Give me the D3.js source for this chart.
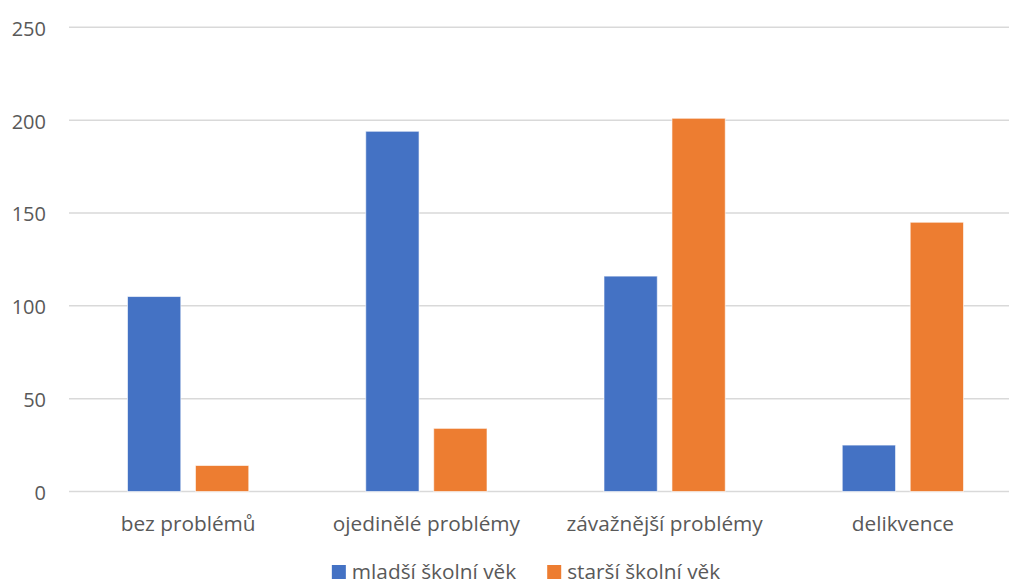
<!DOCTYPE html>
<html>
<head>
<meta charset="utf-8">
<script src="https://cdn.jsdelivr.net/npm/d3@7"></script>
<style>
  body { margin: 0; background: #fff; }
  text { font-family: "Open Sans", sans-serif; fill: #595959; }
</style>
</head>
<body>
<div id="chart"></div>
<script>
// data
var categories = ["bez problémů", "ojedinělé problémy", "závažnější problémy", "delikvence"];
var seriesNames = ["mladší školní věk", "starší školní věk"];
var youngerValues = [105, 194, 116, 25];
var olderValues = [14, 34, 201, 145];
var yTicks = [0, 50, 100, 150, 200, 250];

var colors = ["#4472C4", "#ED7D31"];
var width = 1009, height = 585;
var labelSize = 20.8;

var svg = d3.select("#chart")
  .append("svg")
  .attr("width", width)
  .attr("height", height);

// plot area runs past the right edge of the picture, like the original crop
var x0 = d3.scaleBand()
  .domain(categories)
  .range([69, 1022]);

var groupPad = 58.5;
var x1 = d3.scaleBand()
  .domain(seriesNames)
  .range([groupPad, x0.bandwidth() - groupPad])
  .paddingInner(0.216);

var y = d3.scaleLinear()
  .domain([0, 250])
  .range([491.5, 27.3]);

// gridlines
svg.append("g")
  .selectAll("line")
  .data(yTicks)
  .enter()
  .append("line")
    .attr("x1", 69)
    .attr("x2", 1022)
    .attr("y1", function (d) { return y(d); })
    .attr("y2", function (d) { return y(d); })
    .attr("stroke", "#D9D9D9")
    .attr("stroke-width", 1.5);

// y axis labels (no axis line, just the text)
var yAxis = d3.axisLeft(y).tickValues(yTicks).tickSize(0).tickPadding(0);
var yg = svg.append("g")
  .attr("transform", "translate(46,0)")
  .call(yAxis);
yg.select(".domain").remove();
yg.selectAll("text")
  .attr("font-size", 20)
  .attr("fill", "#595959")
  .attr("font-family", "Open Sans, sans-serif")
  .attr("dy", "0.4em");

// bars
var rows = categories.map(function (c, i) {
  return { cat: c, vals: [youngerValues[i], olderValues[i]] };
});

var groups = svg.append("g")
  .selectAll("g")
  .data(rows)
  .enter()
  .append("g")
    .attr("transform", function (d) { return "translate(" + x0(d.cat) + ",0)"; });

groups.selectAll("rect")
  .data(function (d) {
    return d.vals.map(function (v, i) { return { name: seriesNames[i], value: v, i: i }; });
  })
  .enter()
  .append("rect")
    .attr("x", function (d) { return x1(d.name); })
    .attr("width", x1.bandwidth())
    .attr("y", function (d) { return y(d.value); })
    .attr("height", function (d) { return y(0) - y(d.value); })
    .attr("fill", function (d) { return colors[d.i]; })
    .attr("stroke", "#fff")
    .attr("stroke-opacity", 0.6)
    .attr("stroke-width", 1);

// category labels
var xAxis = d3.axisBottom(x0).tickSize(0).tickPadding(0);
var xg = svg.append("g")
  .attr("transform", "translate(0,531)")
  .call(xAxis);
xg.select(".domain").remove();
xg.selectAll("text")
  .attr("font-size", labelSize)
  .attr("fill", "#595959")
  .attr("font-family", "Open Sans, sans-serif")
  .attr("dy", 0)
  .attr("y", 0);

// legend, centred under the chart
var legend = svg.append("g");
var items = legend.selectAll("g")
  .data(seriesNames)
  .enter()
  .append("g");

items.append("rect")
  .attr("width", 14)
  .attr("height", 14)
  .attr("y", 565)
  .attr("fill", function (d, i) { return colors[i]; });

items.append("text")
  .attr("x", 20)
  .attr("y", 579)
  .attr("font-size", labelSize)
  .text(function (d) { return d; });

var offset = 0;
var itemGap = 31;
items.each(function () {
  var w = 20 + this.querySelector("text").getComputedTextLength();
  d3.select(this).attr("transform", "translate(" + offset + ",0)");
  offset += w + itemGap;
});
var legendWidth = offset - itemGap;
legend.attr("transform", "translate(" + (526 - legendWidth / 2) + ",0)");
</script>
</body>
</html>
